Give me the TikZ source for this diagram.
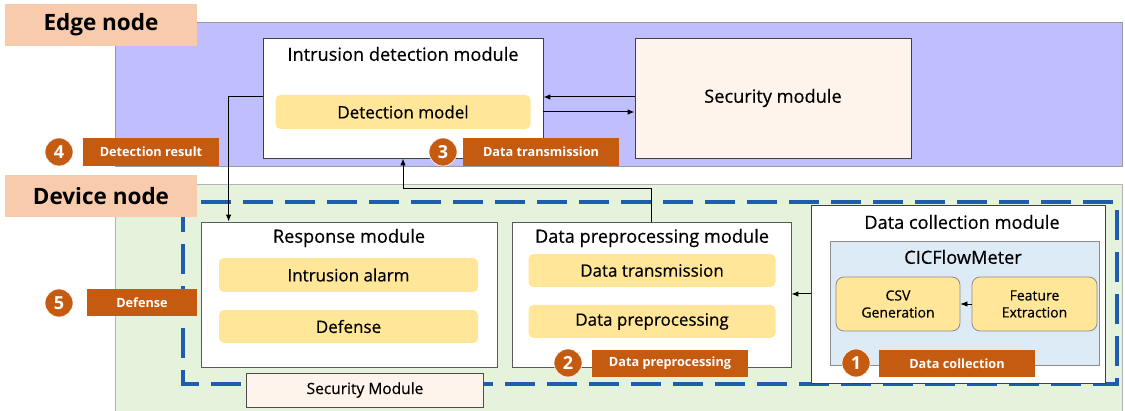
\documentclass[tikz,border=0pt]{standalone}
\usepackage{fontspec}
\setmainfont{Open Sans}[UprightFeatures={FakeBold=0.5}]
\usetikzlibrary{arrows.meta}
\definecolor{edgebg}{HTML}{BFBFFF}
\definecolor{devbg}{HTML}{E5F3DC}
\definecolor{peach}{HTML}{F8CBAD}
\definecolor{secfill}{HTML}{FEF4EC}
\definecolor{partyellow}{HTML}{FFE699}
\definecolor{cicblue}{HTML}{DDEBF7}
\definecolor{stepfill}{HTML}{C55A11}
\definecolor{dashblue}{HTML}{1F5CAE}
\begin{document}
\begin{tikzpicture}[x=1pt,y=-1pt,
  nodetag/.style={fill=peach, inner sep=0pt, minimum width=192pt, minimum height=42pt,
    font=\fontsize{22.5}{26}\selectfont\bfseries},
  module/.style={draw=black!75, fill=white, line width=0.8pt, inner sep=0pt},
  subbox/.style={fill=partyellow, rounded corners=5pt, inner sep=0pt,
    font=\fontsize{17}{20}\selectfont},
  title/.style={inner sep=0pt, font=\fontsize{18.2}{21}\selectfont},
  stepnum/.style={circle, fill=stepfill, draw=white, line width=0.6pt, minimum size=28pt,
    inner sep=0pt, text=white, font=\fontsize{18}{20}\selectfont\bfseries},
  steptag/.style={fill=stepfill, inner sep=0pt, minimum height=27pt, text=white,
    font=\fontsize{12.7}{15}\selectfont\bfseries},
  flow/.style={-{Latex[length=7pt,width=5.5pt]}, line width=1pt},
]
\useasboundingbox (0,0) rectangle (1125,411);

% regions
\draw[fill=edgebg, draw=gray!80, line width=0.8pt] (115,22) rectangle (1122,166);
\draw[fill=devbg, draw=gray!60, line width=0.8pt] (115,184) rectangle (1122,412);
\draw[dashblue, line width=4pt, dash pattern=on 30pt off 12pt] (183,202) rectangle (1117,384);

% edge node
\node[module, minimum width=280pt, minimum height=120pt] (ids) at (403,98) {};
\node[title] (ids-t) at (403,54) {Intrusion detection module};
\node[subbox, minimum width=255pt, minimum height=34pt] (model) at (403,112) {Detection model};
\node[module, fill=secfill, minimum width=276pt, minimum height=120pt, title] (sec) at (773,98) {Security module};

% device node
\node[module, draw=black!65, minimum width=296pt, minimum height=145pt] (resp) at (349,294.5) {};
\node[title] (resp-t) at (349,238) {Response module};
\node[subbox, minimum width=259pt, minimum height=34pt] (alarm) at (348.5,275) {Intrusion alarm};
\node[subbox, minimum width=259pt, minimum height=33pt] (def) at (348.5,326.5) {Defense};

\node[module, draw=black!65, minimum width=279pt, minimum height=145pt] (prep) at (651.5,294.5) {};
\node[title] (prep-t) at (652,238) {Data preprocessing module};
\node[subbox, minimum width=247pt, minimum height=33pt] (trans) at (652,270.5) {Data transmission};
\node[subbox, minimum width=247pt, minimum height=33pt] (proc) at (652,321.5) {Data preprocessing};

\node[module, minimum width=294pt, minimum height=178pt] (dcm) at (958,294) {};
\node[title] (dcm-t) at (962,222) {Data collection module};
\node[draw=gray!90, fill=cicblue, line width=0.8pt, minimum width=269pt, minimum height=124pt] (cic) at (964.5,303) {};
\node[title] (cic-t) at (963,257) {CICFlowMeter};
\node[subbox, draw=gray!90, line width=0.8pt, rounded corners=8pt, minimum width=124pt, minimum height=54pt,
  align=center, font=\fontsize{14}{17}\selectfont] (csv) at (898,304) {CSV\\Generation};
\node[subbox, draw=gray!90, line width=0.8pt, rounded corners=8pt, minimum width=125pt, minimum height=54pt,
  align=center, font=\fontsize{14}{17}\selectfont] (feat) at (1034.5,304) {Feature\\Extraction};

% connectors
\draw[flow] ([yshift=1pt]sec.west) -- ([yshift=1pt]ids.east);
\draw[flow] ([yshift=-14pt]ids.east) -- ([yshift=-14pt]sec.west);
\draw[flow] ([yshift=1pt]ids.west) -| ([xshift=28pt]resp.north west);
\draw[flow] (prep.north) -- ++(0,-33) -| (ids.south);
\draw[flow] (dcm.west) -- (dcm.west -| prep.east);
\draw[flow, line width=0.8pt] (feat.west) -- (csv.east);

% labels
\node[nodetag] (edge) at (101,25) {Edge node};
\node[nodetag] (device) at (101,196) {Device node};
\node[draw=black!70, fill=secfill, line width=0.8pt, minimum width=237pt, minimum height=34pt,
  font=\fontsize{15.5}{18}\selectfont] (secmod) at (365,390) {Security Module};

\node[steptag, minimum width=136pt, minimum height=28pt] (res-l) at (151,152) {Detection result};
\node[stepnum] (n4) at (59,152) {4};
\node[steptag, minimum width=156pt, minimum height=28pt] (trans-l) at (541,152) {Data transmission};
\node[stepnum] (n3) at (443,152) {3};
\node[steptag, minimum width=110pt] (def-l) at (142,302.5) {Defense};
\node[stepnum] (n5) at (59,303) {5};
\node[steptag, minimum width=156pt] (prep-l) at (670,363.5) {Data preprocessing};
\node[stepnum] (n2) at (568,363) {2};
\node[steptag, minimum width=156pt] (coll-l) at (957,363.5) {Data collection};
\node[stepnum] (n1) at (856,363) {1};
\end{tikzpicture}
\end{document}
